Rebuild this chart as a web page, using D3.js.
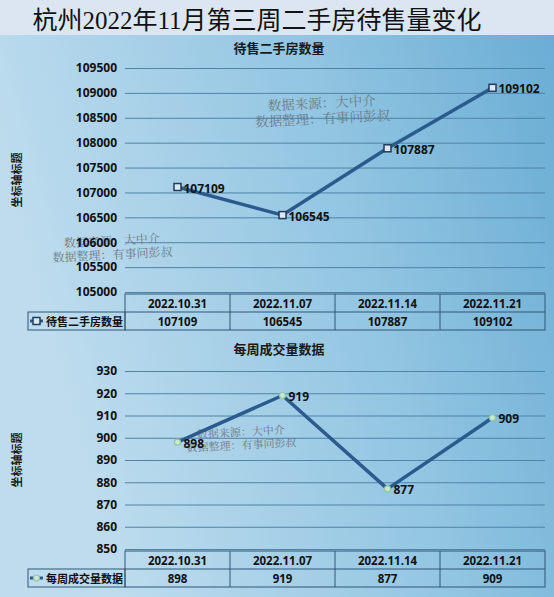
<!DOCTYPE html>
<html>
<head>
<meta charset="utf-8">
<script src="https://cdn.jsdelivr.net/npm/d3@7"></script>
<style>
  html, body { margin: 0; padding: 0; background: #fff; }
  svg { display: block; }
</style>
</head>
<body>
<div id="chart"></div>
<script>
// values
const dates = ["2022.10.31", "2022.11.07", "2022.11.14", "2022.11.21"];
const listings = [107109, 106545, 107887, 109102];
const deals = [898, 919, 877, 909];
const listingTicks = [105000, 105500, 106000, 106500, 107000, 107500, 108000, 108500, 109000, 109500];
const dealTicks = [850, 860, 870, 880, 890, 900, 910, 920, 930];

const W = 554, H = 597;
const numFont = "'Open Sans', 'Noto Sans CJK SC', sans-serif";
const cjkFont = "'Noto Sans CJK SC', sans-serif";

const svg = d3.select("#chart").append("svg").attr("width", W).attr("height", H);

const defs = svg.append("defs");
const grad = defs.append("linearGradient")
  .attr("id", "bg").attr("x1", "0%").attr("y1", "30%").attr("x2", "100%").attr("y2", "0%");
grad.append("stop").attr("offset", "0%").attr("stop-color", "#bedcee");
grad.append("stop").attr("offset", "55%").attr("stop-color", "#93c6e2");
grad.append("stop").attr("offset", "100%").attr("stop-color", "#69acd4");

svg.append("rect").attr("x", 0).attr("y", 0).attr("width", W).attr("height", H).attr("fill", "url(#bg)");
svg.append("rect").attr("x", 0).attr("y", 0).attr("width", W).attr("height", 35).attr("fill", "#dbe6f2");

svg.append("text")
  .attr("x", 257).attr("y", 20)
  .attr("text-anchor", "middle").attr("dominant-baseline", "central")
  .attr("font-family", "'Liberation Serif', 'Noto Sans CJK SC', serif")
  .attr("font-size", 25).attr("fill", "#111")
  .text("杭州2022年11月第三周二手房待售量变化");

const x = d3.scaleBand().domain(dates).range([125, 545]);
const cx = d => x(d) + x.bandwidth() / 2;

function watermark(px, py, size) {
  const g = svg.append("g").attr("transform", `translate(${px},${py}) rotate(-3)`)
    .attr("font-family", "'Noto Serif CJK SC', " + cjkFont)
    .attr("font-size", size).attr("fill", "#6e7a84").attr("text-anchor", "middle");
  g.append("text").attr("x", 0).attr("y", 0).text("数据来源：大中介");
  g.append("text").attr("x", 0).attr("y", size + 2).text("数据整理：有事问彭叔");
}

function panel(cfg) {
  const y = d3.scaleLinear().domain(cfg.domain).range(cfg.range);

  svg.append("text")
    .attr("x", 279).attr("y", cfg.titleY)
    .attr("text-anchor", "middle").attr("dominant-baseline", "central")
    .attr("font-family", cjkFont).attr("font-weight", "bold")
    .attr("font-size", 13).attr("fill", "#1a1a1a")
    .text(cfg.title);

  const midY = (cfg.range[0] + cfg.range[1]) / 2;
  svg.append("text")
    .attr("transform", `translate(16,${midY}) rotate(-90)`)
    .attr("text-anchor", "middle").attr("dominant-baseline", "central")
    .attr("font-family", cjkFont).attr("font-weight", "bold")
    .attr("font-size", 11).attr("fill", "#1a1a1a")
    .text("坐标轴标题");

  cfg.marks.forEach(m => watermark(m[0], m[1], m[2]));

  const axis = svg.append("g").attr("transform", "translate(125,0)")
    .call(d3.axisLeft(y).tickValues(cfg.ticks).tickSize(-420).tickPadding(8).tickFormat(d3.format("d")));
  axis.select(".domain").remove();
  axis.selectAll(".tick line").attr("stroke", "#4f83a8").attr("stroke-width", 1);
  axis.selectAll(".tick text")
    .attr("font-family", numFont).attr("font-weight", "bold")
    .attr("font-size", 12).attr("fill", "#111");

  const line = d3.line().x((v, i) => cx(dates[i])).y(v => y(v));
  svg.append("path").datum(cfg.values)
    .attr("d", line).attr("fill", "none")
    .attr("stroke", "#2b5b8e").attr("stroke-width", 3.5).attr("stroke-linejoin", "round");

  cfg.values.forEach((v, i) => {
    cfg.marker(svg, cx(dates[i]), y(v));
    svg.append("text")
      .attr("x", cx(dates[i]) + 6).attr("y", y(v) + 1)
      .attr("dominant-baseline", "central")
      .attr("font-family", numFont).attr("font-weight", "bold")
      .attr("font-size", 12).attr("fill", "#111")
      .text(v);
  });

  // data table under the plot
  const t0 = cfg.range[0] + 2, rh = 18;
  const tb = svg.append("g").attr("fill", "none").attr("stroke", "#2f5777").attr("stroke-width", 1);
  tb.append("rect").attr("x", 125).attr("y", t0).attr("width", 420).attr("height", rh * 2);
  tb.append("rect").attr("x", 28).attr("y", t0 + rh).attr("width", 97).attr("height", rh);
  tb.append("line").attr("x1", 125).attr("x2", 545).attr("y1", t0 + rh).attr("y2", t0 + rh);
  dates.slice(1).forEach(d => {
    tb.append("line").attr("x1", x(d)).attr("x2", x(d)).attr("y1", t0).attr("y2", t0 + rh * 2);
  });

  const cell = (txt, px, py) => svg.append("text")
    .attr("x", px).attr("y", py)
    .attr("text-anchor", "middle").attr("dominant-baseline", "central")
    .attr("font-family", numFont).attr("font-weight", "bold")
    .attr("font-size", 11.5).attr("fill", "#111")
    .text(txt);
  dates.forEach((d, i) => {
    cell(d, cx(d), t0 + rh / 2);
    cell(cfg.values[i], cx(d), t0 + rh * 1.5);
  });

  const ly = t0 + rh * 1.5;
  svg.append("line").attr("x1", 30).attr("x2", 43).attr("y1", ly).attr("y2", ly)
    .attr("stroke", "#2b5b8e").attr("stroke-width", 3);
  cfg.marker(svg, 36.5, ly);
  svg.append("text")
    .attr("x", 46).attr("y", ly)
    .attr("dominant-baseline", "central")
    .attr("font-family", cjkFont).attr("font-weight", "bold")
    .attr("font-size", 11).attr("fill", "#111")
    .text(cfg.title);
}

const squareMark = (s, px, py) => s.append("rect")
  .attr("x", px - 3.5).attr("y", py - 3.5).attr("width", 7).attr("height", 7)
  .attr("fill", "#dde8f1").attr("stroke", "#1f3d60").attr("stroke-width", 1.5);

const circleMark = (s, px, py) => s.append("circle")
  .attr("cx", px).attr("cy", py).attr("r", 3)
  .attr("fill", "#cfe6d6").attr("stroke", "#8fc79a").attr("stroke-width", 1.2);

panel({
  title: "待售二手房数量",
  titleY: 47,
  domain: [105000, 109500],
  range: [292, 68],
  ticks: listingTicks,
  values: listings,
  marker: squareMark,
  marks: [[322, 108, 13.5], [112, 245, 12]]
});

panel({
  title: "每周成交量数据",
  titleY: 348,
  domain: [850, 930],
  range: [549, 371],
  ticks: dealTicks,
  values: deals,
  marker: circleMark,
  marks: [[241, 436, 11]]
});
</script>
</body>
</html>
